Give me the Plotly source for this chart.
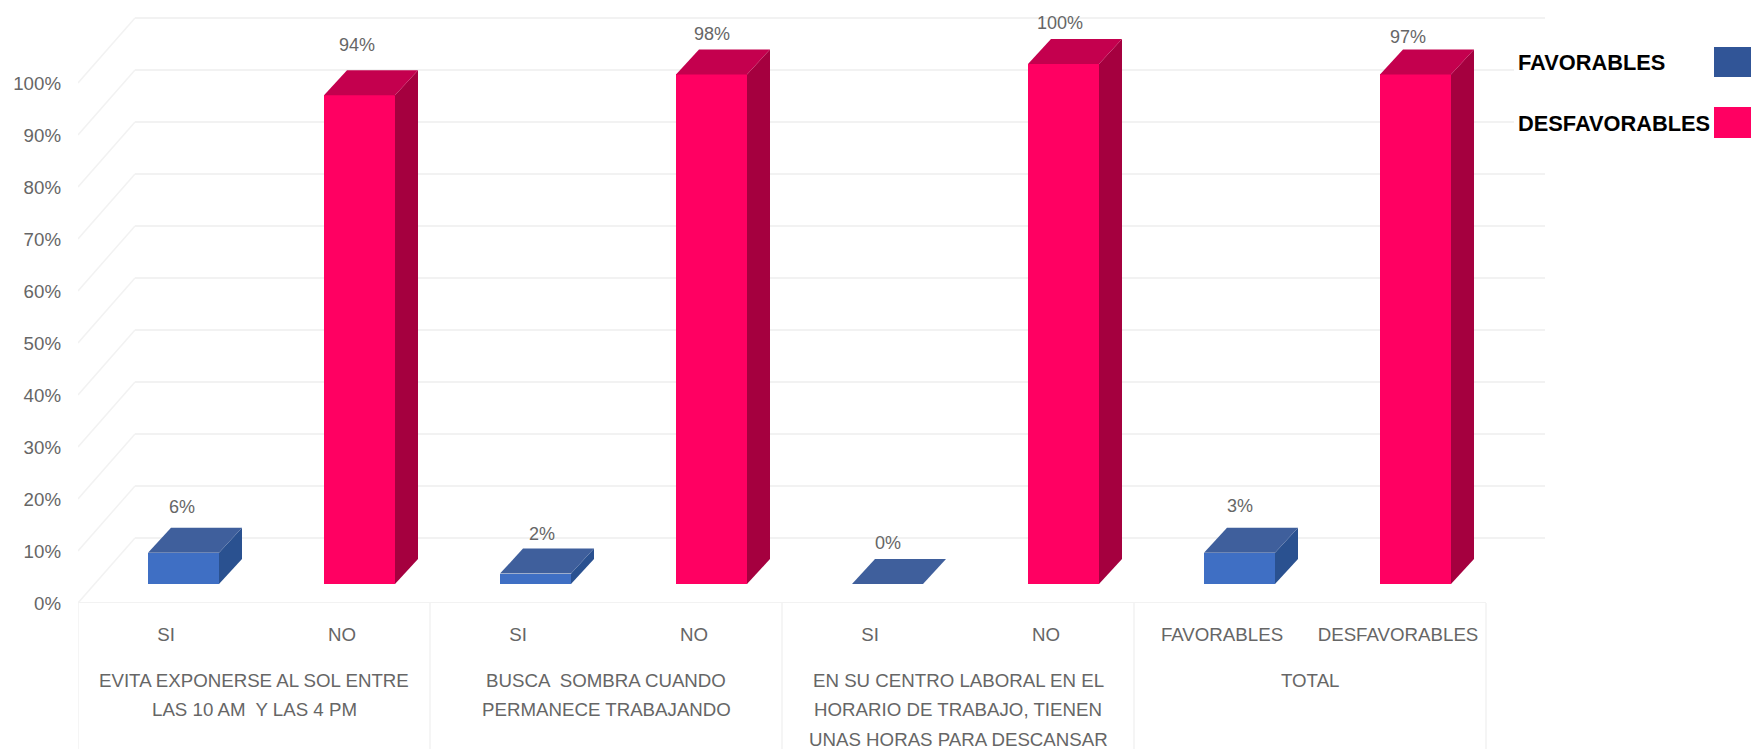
import plotly.graph_objects as go

W, H = 1751, 749
L, R, T, B = 78, 200, 10, 146
PLOT_W, PLOT_H = W - L - R, H - T - B
PX_PER_CAT = 176.0
PX_PER_PCT = 5.2

# ---------- data ----------
categories = ["SI", "NO", "SI", "NO", "SI", "NO", "FAVORABLES", "DESFAVORABLES"]
drawn_heights = [6, 94, 2, 98, 0, 100, 6, 98]
value_labels = ["6%", "94%", "2%", "98%", "0%", "100%", "3%", "97%"]
label_nudge_px = [19, 24, 13, 14, 15, 15, 20, 11]
label_shift_px = [-2, -3, 6, 0, 0, -4, 0, -8]
groups = [
    ["EVITA EXPONERSE AL SOL ENTRE", "LAS 10 AM  Y LAS 4 PM"],
    ["BUSCA  SOMBRA CUANDO", "PERMANECE TRABAJANDO"],
    ["EN SU CENTRO LABORAL EN EL", "HORARIO DE TRABAJO, TIENEN", "UNAS HORAS PARA DESCANSAR"],
    ["TOTAL"],
]
y_ticks = [0, 10, 20, 30, 40, 50, 60, 70, 80, 90, 100]
legend_names = ["FAVORABLES", "DESFAVORABLES"]

# ---------- style ----------
RED_FRONT, RED_TOP, RED_SIDE = "#ff0062", "#c4004e", "#a5003f"
BLUE_FRONT, BLUE_TOP, BLUE_SIDE = "#3f6fc4", "#3f5f9c", "#2a5190"
GRID = "#f2f2f2"
TEXT = "#666666"
FONT = "Liberation Sans"

# depth of the floor, of the bars, and the position of the bars inside it
FLOOR_DX, FLOOR_DY = 57 / PX_PER_CAT, 65 / PX_PER_PCT
BAR_DX, BAR_DY = 23 / PX_PER_CAT, 25 / PX_PER_PCT
BAR_SHIFT_X, BAR_BASE = 17.5 / PX_PER_CAT, 19 / PX_PER_PCT
BAR_W = 71 / PX_PER_CAT
X_END = 7.5
X_BACK_END = -0.5 + (1545 - L) / PX_PER_CAT

fig = go.Figure()

# front faces
colors_front = [BLUE_FRONT if i % 2 == 0 else RED_FRONT for i in range(8)]
fig.add_trace(go.Bar(
    x=[i + BAR_SHIFT_X for i in range(8)],
    y=drawn_heights,
    base=BAR_BASE,
    width=BAR_W,
    marker=dict(color=colors_front, line=dict(width=0)),
    showlegend=False,
    hoverinfo="skip",
))

# side and top faces
for i, v in enumerate(drawn_heights):
    x0 = i + BAR_SHIFT_X - BAR_W / 2
    x1 = i + BAR_SHIFT_X + BAR_W / 2
    y0 = BAR_BASE
    y1 = BAR_BASE + v
    blue = i % 2 == 0
    if v > 0:
        fig.add_trace(go.Scatter(
            x=[x1, x1 + BAR_DX, x1 + BAR_DX, x1, x1],
            y=[y0, y0 + BAR_DY, y1 + BAR_DY, y1, y0],
            mode="lines", fill="toself", line=dict(width=0),
            fillcolor=BLUE_SIDE if blue else RED_SIDE,
            showlegend=False, hoverinfo="skip", cliponaxis=False,
        ))
    fig.add_trace(go.Scatter(
        x=[x0, x1, x1 + BAR_DX, x0 + BAR_DX, x0],
        y=[y1, y1, y1 + BAR_DY, y1 + BAR_DY, y1],
        mode="lines", fill="toself", line=dict(width=0),
        fillcolor=BLUE_TOP if blue else RED_TOP,
        showlegend=False, hoverinfo="skip", cliponaxis=False,
    ))

# value labels
fig.add_trace(go.Scatter(
    x=[i + BAR_SHIFT_X + BAR_DX / 2 - 11 / PX_PER_CAT + s / PX_PER_CAT for i, s in enumerate(label_shift_px)],
    y=[BAR_BASE + v + BAR_DY + n / PX_PER_PCT for v, n in zip(drawn_heights, label_nudge_px)],
    mode="text",
    text=value_labels,
    textposition="middle center",
    textfont=dict(family=FONT, size=18, color=TEXT),
    showlegend=False, hoverinfo="skip", cliponaxis=False,
))

# gridlines on the back wall and the diagonals on the side wall
shapes = []
for t in y_ticks:
    shapes.append(dict(type="line", xref="x", yref="y", layer="below",
                       x0=-0.5 + FLOOR_DX, x1=X_BACK_END,
                       y0=t + FLOOR_DY, y1=t + FLOOR_DY,
                       line=dict(color=GRID, width=2)))
    shapes.append(dict(type="line", xref="x", yref="y", layer="below",
                       x0=-0.5, x1=-0.5 + FLOOR_DX,
                       y0=t, y1=t + FLOOR_DY,
                       line=dict(color=GRID, width=1.5)))
# floor front edge
shapes.append(dict(type="line", xref="x", yref="y", layer="below",
                   x0=-0.5, x1=X_END, y0=0, y1=0,
                   line=dict(color=GRID, width=2)))
# group separators below the axis
for g in range(5):
    shapes.append(dict(type="line", xref="x", yref="paper", layer="below",
                       x0=-0.5 + 2 * g, x1=-0.5 + 2 * g, y0=0, y1=-B / PLOT_H,
                       line=dict(color="#f5f5f5", width=2)))


def paper_x(px):
    return (px - L) / PLOT_W


def paper_y(px):
    return 1 - (px - T) / PLOT_H


# legend block, text on the left of its swatch
shapes.append(dict(type="rect", xref="paper", yref="paper", layer="above",
                   x0=paper_x(1514), x1=paper_x(1712), y0=paper_y(140), y1=paper_y(40),
                   fillcolor="white", line=dict(width=0)))
annotations = []
for name, color, ytop, ybot, yc in zip(legend_names, ["#315597", "#ff0062"], [47, 107], [77, 138], [63, 123.5]):
    shapes.append(dict(type="rect", xref="paper", yref="paper", layer="above",
                       x0=paper_x(1714), x1=paper_x(1760), y0=paper_y(ybot), y1=paper_y(ytop),
                       fillcolor=color, line=dict(width=0)))
    annotations.append(dict(xref="paper", yref="paper", x=paper_x(1516), y=paper_y(yc),
                            xanchor="left", yanchor="middle", showarrow=False, text=name,
                            font=dict(family=FONT, size=21.8, color="black", weight="bold")))

# group labels, one annotation per line for the wide line spacing
for g, lines in enumerate(groups):
    for n, line in enumerate(lines):
        annotations.append(dict(xref="x", yref="paper", x=0.5 + 2 * g, y=paper_y(680 + 29.5 * n),
                                xanchor="center", yanchor="middle", showarrow=False, text=line,
                                font=dict(family=FONT, size=18.7, color=TEXT)))

fig.update_layout(
    width=W, height=H,
    margin=dict(l=L, r=R, t=T, b=B, pad=0),
    paper_bgcolor="white", plot_bgcolor="white",
    shapes=shapes, annotations=annotations,
    showlegend=False, bargap=0,
    xaxis=dict(
        range=[-0.5, -0.5 + PLOT_W / PX_PER_CAT],
        tickmode="array", tickvals=list(range(8)), ticktext=categories,
        showgrid=False, zeroline=False, showline=False, ticks="",
        ticklabelstandoff=18, tickangle=0,
        tickfont=dict(family=FONT, size=18.7, color=TEXT),
    ),
    yaxis=dict(
        range=[0, PLOT_H / PX_PER_PCT],
        tickmode="array", tickvals=y_ticks, ticktext=[f"{t}%" for t in y_ticks],
        showgrid=False, zeroline=False, showline=False, ticks="",
        ticklabelstandoff=16,
        tickfont=dict(family=FONT, size=18.7, color=TEXT),
    ),
)

fig.write_html("out.html", post_script="document.body.style.margin='0';",
               config={"displayModeBar": False})
